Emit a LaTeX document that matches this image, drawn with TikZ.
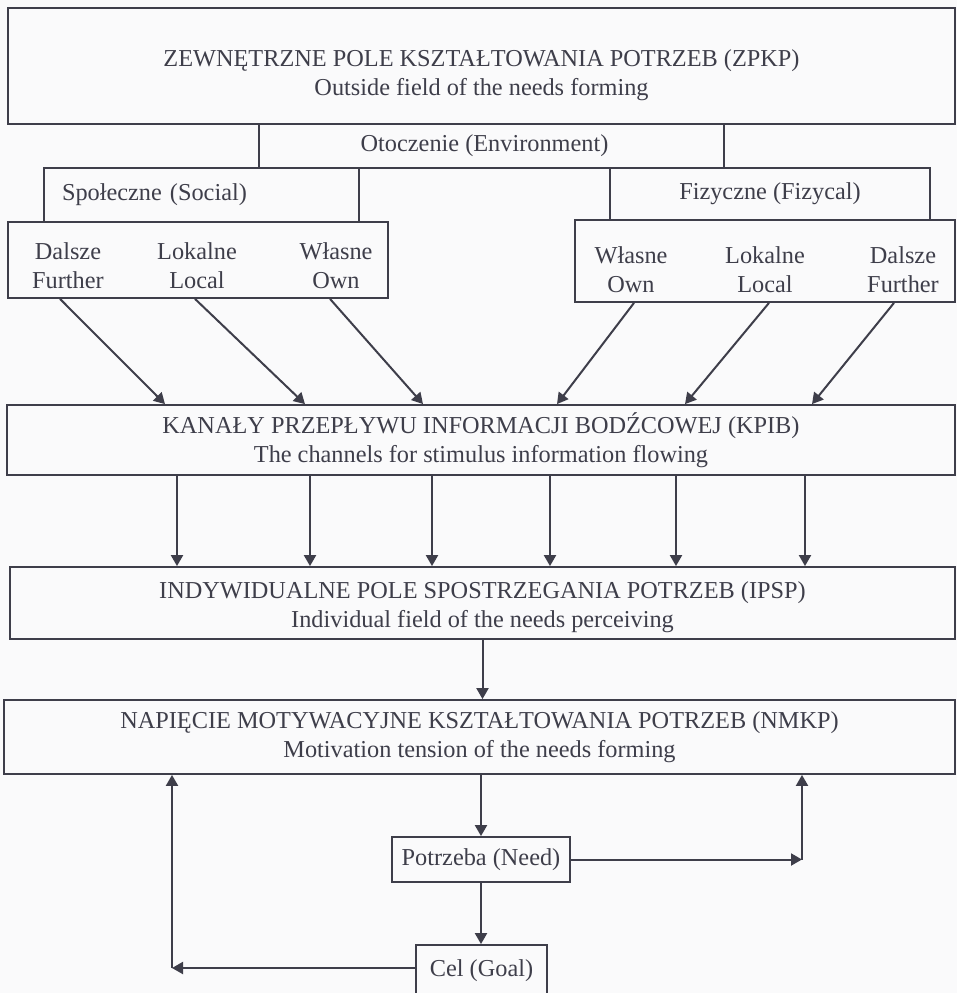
\documentclass[tikz,border=0pt]{standalone}
\usepackage{fontspec}
\setmainfont{Liberation Serif}
\usetikzlibrary{arrows.meta,calc}
\definecolor{ink}{RGB}{62,62,74}
\definecolor{paper}{RGB}{250,250,251}

\begin{document}
\begin{tikzpicture}[x=1pt,y=-1pt,>={Triangle[length=11pt,width=12pt]},
   every node/.style={font=\fontsize{24.3}{29}\selectfont,text=ink},
   box/.style={draw=ink,line width=1.8pt,inner sep=0pt,align=center},
   arr/.style={draw=ink,line width=2pt,->}]
  \fill[paper] (0,0) rectangle (957,993);
  \useasboundingbox (0,0) rectangle (957,993);
  % environment
  \node[box,minimum width=947pt,minimum height=116pt,text height=64pt] (zpkp) at (481.5,66)
    {ZEWNĘTRZNE POLE KSZTAŁTOWANIA POTRZEB (ZPKP)\\Outside field of the needs forming};
  \node[box,minimum width=465pt,minimum height=44pt] (env) at (491.5,146) {Otoczenie (Environment)\hspace*{14pt}};
  \node[box,text width=279pt,inner xsep=18pt,align=left,minimum height=54pt] (soc) at (201.5,195) {Społeczne (Social)};
  \node[box,minimum width=380pt,minimum height=76pt] (socsub) at (198,260) {};
  \node[box,minimum width=320pt,minimum height=52pt] (fiz) at (770,194) {Fizyczne (Fizycal)};
  \node[box,minimum width=380pt,minimum height=82pt] (fizsub) at (765,261) {};
  \node[align=center] (s1) at (68,266) {Dalsze\\Further};
  \node[align=center] (s2) at (197,266) {Lokalne\\Local};
  \node[align=center] (s3) at (336,266) {Własne\\Own};
  \node[align=center] (f1) at (631,270) {Własne\\Own};
  \node[align=center] (f2) at (765,270) {Lokalne\\Local};
  \node[align=center] (f3) at (903,270) {Dalsze\\Further};
  % main chain
  \node[box,minimum width=948pt,minimum height=70pt] (kpib) at (481,440)
    {KANAŁY PRZEPŁYWU INFORMACJI BODŹCOWEJ (KPIB)\\The channels for stimulus information flowing};
  \node[box,minimum width=945pt,minimum height=72pt,text height=55pt] (ipsp) at (482.5,603)
    {INDYWIDUALNE POLE SPOSTRZEGANIA POTRZEB (IPSP)\\Individual field of the needs perceiving};
  \node[box,minimum width=951pt,minimum height=74pt] (nmkp) at (479.5,737)
    {NAPIĘCIE MOTYWACYJNE KSZTAŁTOWANIA POTRZEB (NMKP)\\Motivation tension of the needs forming};
  \node[box,minimum width=178pt,minimum height=45pt] (need) at (481,859.5) {Potrzeba (Need)};
  \node[box,minimum width=131pt,minimum height=52pt] (goal) at (481.5,971) {Cel (Goal)};
  \coordinate (rc) at (802,859.5);
  \coordinate (lc) at (172,968);

  \foreach \a/\b in {60/165,195/305,330/423}
    \draw[arr] (\a,0 |- socsub.south) -- (\b,0 |- kpib.north);
  \foreach \a/\b in {634/557,769/685,894/812}
    \draw[arr] (\a,0 |- fizsub.south) -- (\b,0 |- kpib.north);
  \foreach \x in {177,310,432,550,676,805}
    \draw[arr] (\x,0 |- kpib.south) -- (\x,0 |- ipsp.north);
  \draw[arr] (ipsp.south) -- (ipsp.south |- nmkp.north);
  \draw[arr] (need.north |- nmkp.south) -- (need.north);
  \draw[arr] (need.south) -- (need.south |- goal.north);
  \draw[arr] (need.east) -- (rc);
  \draw[arr] (rc) -- (rc |- nmkp.south);
  \draw[arr] (goal.west |- lc) -- (lc);
  \draw[arr] (lc) -- (lc |- nmkp.south);
\end{tikzpicture}
\end{document}
